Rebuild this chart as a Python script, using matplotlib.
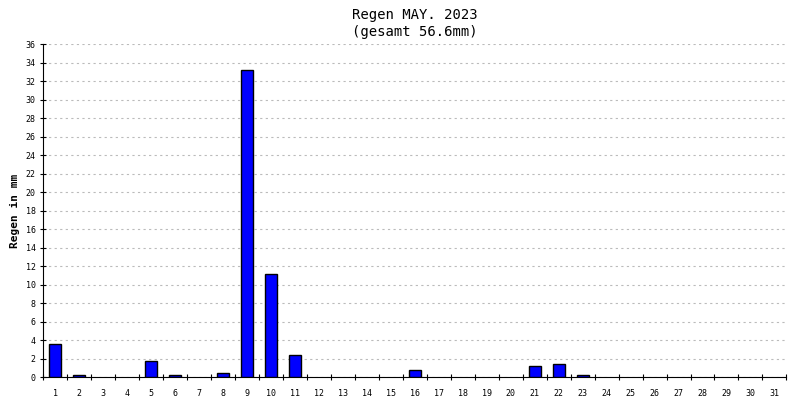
import matplotlib
matplotlib.use("Agg")
import matplotlib.pyplot as plt

days = list(range(1, 32))
rain = [3.6, 0.2, 0, 0, 1.8, 0.2, 0, 0.4, 33.2, 11.2, 2.4, 0, 0, 0, 0, 0.8,
        0, 0, 0, 0, 1.2, 1.4, 0.2, 0, 0, 0, 0, 0, 0, 0, 0]
y_ticks = list(range(0, 37, 2))

plt.rcParams['font.family'] = ['DejaVu Sans Mono']

fig, ax = plt.subplots(figsize=(8, 4), dpi=100)
fig.subplots_adjust(left=0.054, right=0.983, top=0.89, bottom=0.057)

# only draw days with rain, zero bars would show as a line
wet_days = [d for d, r in zip(days, rain) if r > 0]
wet_rain = [r for r in rain if r > 0]
ax.bar(wet_days, wet_rain, width=0.5, color='#0000ff', edgecolor='black', linewidth=1, zorder=3)

ax.set_xlim(0.5, 31.5)
ax.set_ylim(0, 36)
ax.set_yticks(y_ticks)
ax.set_yticklabels([str(v) for v in y_ticks], fontsize=6)
ax.set_xticks([d + 0.5 for d in days[:-1]] + [0.5, 31.5])
ax.set_xticklabels([])
ax.tick_params(axis='x', length=5, direction='inout')
ax.tick_params(axis='y', length=4, direction='inout')
for d in days:
    ax.text(d, -1.3, str(d), ha='center', va='top', fontsize=6)
ax.grid(axis='y', linestyle=(0, (2, 3)), color='#bbbbbb', linewidth=0.8, zorder=0)

for s in ['top', 'right']:
    ax.spines[s].set_visible(False)

ax.set_ylabel('Regen in mm', fontsize=8, fontweight='bold')
ax.set_title('Regen MAY. 2023\n(gesamt 56.6mm)', fontsize=10)

fig.savefig('out.png')
